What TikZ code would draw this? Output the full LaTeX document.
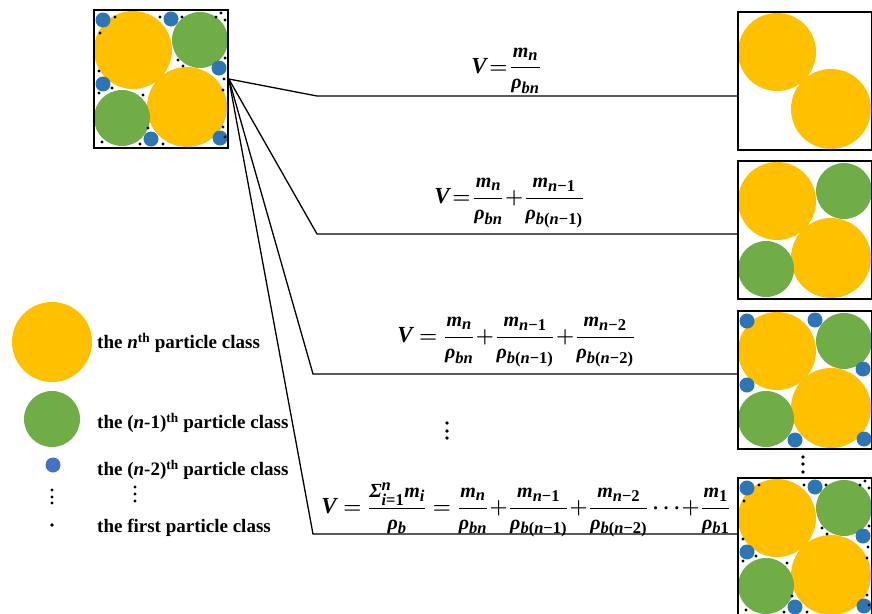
\documentclass[tikz,border=0pt]{standalone}
\usepackage{amsmath}
\usepackage{fontspec}
\setmainfont{Liberation Serif}
\definecolor{pyel}{HTML}{FFC000}
\definecolor{pgrn}{HTML}{70AD47}
\definecolor{pblu}{HTML}{2E75B6}
\definecolor{lblu}{HTML}{4472C4}
\newcommand\bi[1]{\text{\fontsize{20}{20}\selectfont\bfseries\itshape #1}}
\newcommand\bigV{\text{\fontsize{23}{23}\selectfont\bfseries\itshape V}}
\newcommand\sbx[1]{\text{\fontsize{16.5}{16.5}\selectfont\bfseries\itshape #1}}
\newcommand\rh{\bi{ρ}}
\newcommand\pkYel{\fill[pyel] (39,40) circle[radius=39pt] (93,97) circle[radius=40pt];}
\newcommand\pkGrn{\fill[pgrn] (106,30) circle[radius=28pt] (28,108) circle[radius=28pt];}
\newcommand\pkBlu{\fill[pblu] (9,10) circle[radius=7.5pt] (77,9) circle[radius=7.5pt]
  (125,58) circle[radius=7.5pt] (9,74) circle[radius=7.5pt]
  (57,129) circle[radius=7.5pt] (126,128) circle[radius=7.5pt];}
\newcommand\pkBlk{\fill[black] foreach \x/\y in {21/7,66/7,88/7,122/7,127/3,131/10,6/23,84/50,89/56,131/48,130/69,5/61,5/83,18/78,49/85,129/80,129/117,54/118,8/132,46/134,69/134,131/127} {(\x,\y) circle[radius=1.7pt]};}
\tikzset{
  pbox/.style={draw=black, line width=1.6pt, minimum width=134pt, minimum height=138pt, inner sep=0pt},
  conn/.style={line width=1.3pt, black},
  frm/.style={inner sep=0pt, font=\fontsize{20}{24}\selectfont\boldmath},
  leg/.style={anchor=west, inner sep=0pt, font=\fontsize{19}{22}\selectfont\bfseries},
}
\begin{document}
\begin{tikzpicture}[x=1pt,y=-1pt]
\useasboundingbox (0,0) rectangle (872,613);
% box contents
\begin{scope}[shift={(94,10)}]
  \clip (0,0) rectangle (134,138);
  \pkYel \pkGrn \pkBlu \pkBlk
\end{scope}
\begin{scope}[shift={(738,12)}]
  \clip (0,0) rectangle (134,138);
  \pkYel
\end{scope}
\begin{scope}[shift={(738,161)}]
  \clip (0,0) rectangle (134,138);
  \pkYel \pkGrn
\end{scope}
\begin{scope}[shift={(738,311)}]
  \clip (0,0) rectangle (134,138);
  \pkYel \pkGrn \pkBlu
\end{scope}
\begin{scope}[shift={(738,478)}]
  \clip (0,0) rectangle (134,138);
  \pkYel \pkGrn \pkBlu \pkBlk
\end{scope}
% boxes
\node[pbox] (src) at (161,79) {};
\node[pbox] (t1) at (805,81) {};
\node[pbox] (t2) at (805,230) {};
\node[pbox] (t3) at (805,380) {};
\node[pbox] (t4) at (805,547) {};
% bends
\coordinate (k1) at (317,96);
\coordinate (k2) at (317,234);
\coordinate (k3) at (313,374);
\coordinate (k4) at (313,534);
\draw[conn] (src.east) -- (k1) -- (k1 -| t1.west);
\draw[conn] (src.east) -- (k2) -- (k2 -| t2.west);
\draw[conn] (src.east) -- (k3) -- (k3 -| t3.west);
\draw[conn] (src.east) -- (k4) -- (k4 -| t4.west);
% formulas
\node[frm] (f1) at (506,71) {$\bigV\!=\!\dfrac{\bi{m}_{\sbx{n}}}{\rh_{\sbx{bn}}}$};
\node[frm] (f2) at (509,203) {$\bigV\!=\!\dfrac{\bi{m}_{\sbx{n}}}{\rh_{\sbx{bn}}}\!+\!\dfrac{\bi{m}_{\sbx{n\textup{−1}}}}{\rh_{\sbx{b\textup{(}n\textup{−1)}}}}$};
\node[frm] (f3) at (516,342) {$\bigV=\dfrac{\bi{m}_{\sbx{n}}}{\rh_{\sbx{bn}}}\!+\!\dfrac{\bi{m}_{\sbx{n\textup{−1}}}}{\rh_{\sbx{b\textup{(}n\textup{−1)}}}}\!+\!\dfrac{\bi{m}_{\sbx{n\textup{−2}}}}{\rh_{\sbx{b\textup{(}n\textup{−2)}}}}$};
\node[frm] (f4) at (526,510) {$\bigV=\dfrac{\bi{Σ}_{\sbx{i\textup{=1}}}^{\sbx{n}}\bi{m}_{\sbx{i}}}{\rh_{\sbx{b}}}=\dfrac{\bi{m}_{\sbx{n}}}{\rh_{\sbx{bn}}}\!+\!\dfrac{\bi{m}_{\sbx{n\textup{−1}}}}{\rh_{\sbx{b\textup{(}n\textup{−1)}}}}\!+\!\dfrac{\bi{m}_{\sbx{n\textup{−2}}}}{\rh_{\sbx{b\textup{(}n\textup{−2)}}}}\cdots\!+\!\dfrac{\bi{m}_{\sbx{\textup{1}}}}{\rh_{\sbx{b\textup{1}}}}$};
% vertical dots
\fill foreach \y in {423,431,438} {(447,\y) circle[radius=1.8pt]};
\fill foreach \y in {457,464,472} {(803,\y) circle[radius=1.8pt]};
\fill foreach \y in {490,497,503} {(52,\y) circle[radius=1.6pt]};
\fill foreach \y in {487,494,501} {(135,\y) circle[radius=1.6pt]};
% legend
\fill[pyel] (52,342) circle[radius=40pt];
\fill[pgrn] (52,419) circle[radius=28pt];
\fill[lblu] (53,465) circle[radius=7.5pt];
\fill[black] (52,525) circle[radius=1.8pt];
\node[leg] (l1) at (97,343) {the \textit{n}\textsuperscript{th} particle class};
\node[leg] (l2) at (97,423) {the (\textit{n}-1)\textsuperscript{th} particle class};
\node[leg] (l3) at (97,470) {the (\textit{n}-2)\textsuperscript{th} particle class};
\node[leg] (l4) at (97,528) {the first particle class};
\end{tikzpicture}
\end{document}
